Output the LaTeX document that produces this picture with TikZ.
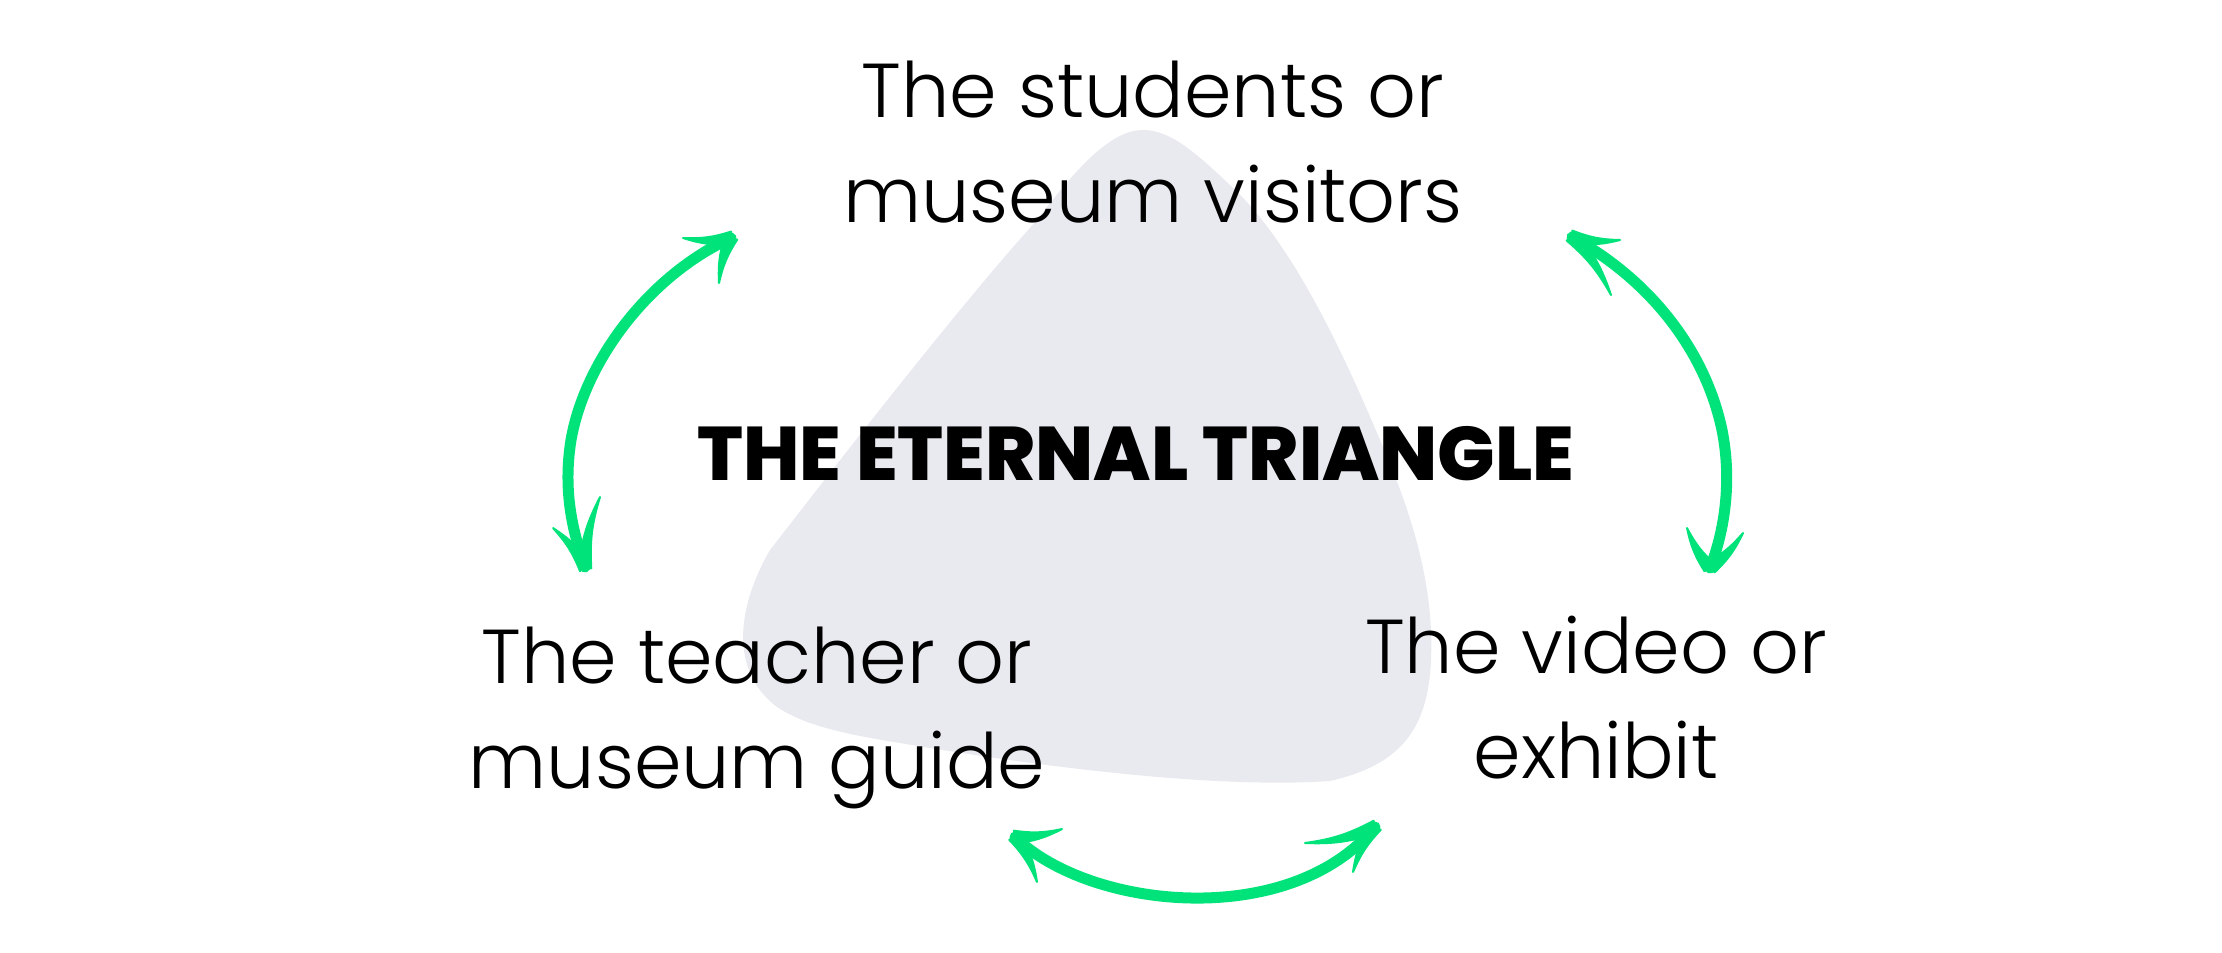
\documentclass[tikz,border=0pt]{standalone}
\usepackage{fontspec}
\newfontfamily\lightfont{Poppins Light}
\newfontfamily\heavyfont{Poppins ExtraBold}
\usetikzlibrary{calc}
\definecolor{blobgray}{RGB}{233,234,240}
\definecolor{arrowgreen}{RGB}{0,227,122}
\newcommand\greenbarb[4]{\path[barbstyle] ($(#1)!#3!90:(#2)$) to[bend left=#4] (#2) to[bend right=#4] ($(#1)!#3!-90:(#2)$) -- cycle;}
\begin{document}
\begin{tikzpicture}[x=0.5pt,y=-0.5pt,
  lbl/.style={font=\lightfont\fontsize{38.2}{52.5}\selectfont, align=center, anchor=base, inner sep=0pt},
  titlestyle/.style={font=\heavyfont\fontsize{38}{50}\selectfont, anchor=base, inner sep=0pt},
  conn/.style={draw=arrowgreen, line width=5.5pt, line cap=round},
  barbstyle/.style={fill=arrowgreen, draw=arrowgreen, line width=1pt, line join=round}]
\useasboundingbox (0,0) rectangle (2222,953);
% background blob
\fill[blobgray] (1143,130) .. controls (1110,130) and (1075,170) .. (1037,220)
  .. controls (960,305) and (840,460) .. (770,550)
  .. controls (738,605) and (728,670) .. (777,707)
  .. controls (800,722) and (830,732) .. (900,743)
  .. controls (1000,760) and (1200,790) .. (1330,781)
  .. controls (1400,765) and (1428,730) .. (1431,660)
  .. controls (1434,590) and (1415,520) .. (1380,440)
  .. controls (1340,345) and (1290,240) .. (1230,185)
  .. controls (1195,152) and (1170,130) .. (1143,130) -- cycle;
% texts (anchor = baseline of the last line)
\node[lbl] (students) at (1153,222.5) {The students or\\museum visitors};
\node[lbl] (teacher) at (757,788) {The teacher or\\museum guide};
\node[lbl] (video) at (1596,778) {The video or\\exhibit};
\node[titlestyle] (title) at (1136,480) {THE ETERNAL TRIANGLE};
% arrow end points
\coordinate (lt) at (731,238);
\coordinate (lb) at (585,567);
\coordinate (rt) at (1572,237);
\coordinate (rb) at (1710,568);
\coordinate (bl) at (1015,837);
\coordinate (br) at (1375,827);
\coordinate (lt1) at (683,238);
\coordinate (lt2) at (719,283);
\coordinate (lb1) at (553,528);
\coordinate (lb2) at (600,497);
\coordinate (rt1) at (1620,240);
\coordinate (rt2) at (1611,295);
\coordinate (rb1) at (1687,528);
\coordinate (rb2) at (1743,533);
\coordinate (bl1) at (1062,829);
\coordinate (bl2) at (1037,882);
\coordinate (br1) at (1305,843);
\coordinate (br2) at (1353,872);
% connectors
\draw[conn] (lt) .. controls (650,275) and (585,360) .. (571,440) .. controls (563,490) and (572,530) .. (lb);
\draw[conn] (rt) .. controls (1650,280) and (1705,350) .. (1722,430) .. controls (1732,480) and (1725,530) .. (rb);
\draw[conn] (bl) .. controls (1090,910) and (1290,930) .. (br);
% arrow heads
\greenbarb{lt}{lt1}{3.2pt}{10}
\greenbarb{lt}{lt2}{3.2pt}{-10}
\greenbarb{lb}{lb1}{3.2pt}{-10}
\greenbarb{lb}{lb2}{3.2pt}{10}
\greenbarb{rt}{rt1}{3.2pt}{-10}
\greenbarb{rt}{rt2}{3.2pt}{10}
\greenbarb{rb}{rb1}{3.2pt}{10}
\greenbarb{rb}{rb2}{3.2pt}{-10}
\greenbarb{bl}{bl1}{3.2pt}{-10}
\greenbarb{bl}{bl2}{3.2pt}{10}
\greenbarb{br}{br1}{3.2pt}{10}
\greenbarb{br}{br2}{3.2pt}{-10}
\end{tikzpicture}
\end{document}
